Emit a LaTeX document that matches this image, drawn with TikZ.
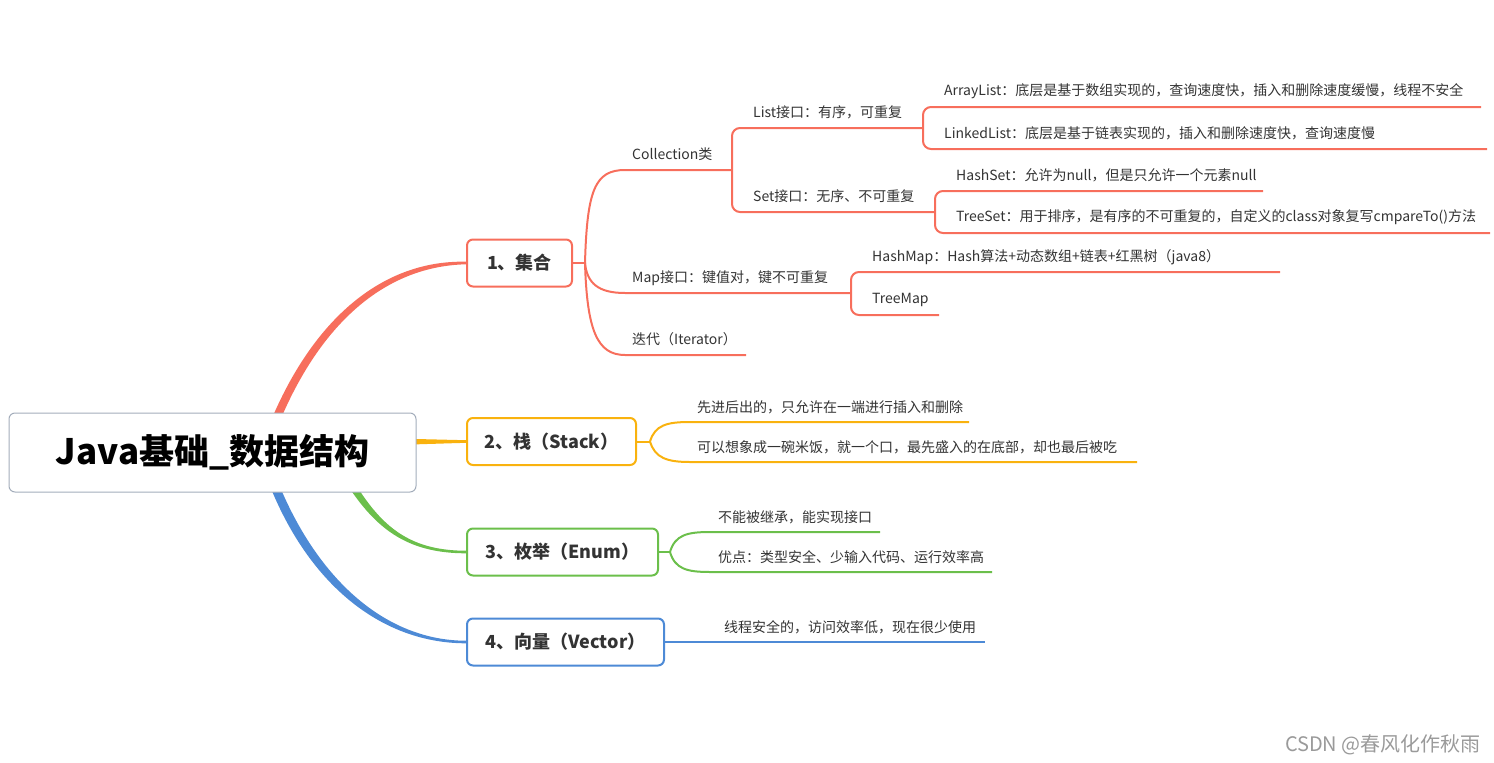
\documentclass[tikz,border=0pt]{standalone}
\usepackage{fontspec}
\setmainfont{Noto Sans CJK SC}
\usetikzlibrary{calc}
\definecolor{cred}{HTML}{F76E5C}
\definecolor{cyel}{HTML}{F9B20E}
\definecolor{cgrn}{HTML}{6BBF4B}
\definecolor{cblu}{HTML}{4D8AD6}
\definecolor{cgry}{HTML}{A3ADBB}
\definecolor{txt}{HTML}{333333}
\definecolor{wmk}{HTML}{9A9A9A}
\pgfdeclarelayer{bg}
\pgfsetlayers{bg,main}
\begin{document}
\begin{tikzpicture}[x=1pt,y=-1pt,
  leaf/.style={anchor=west,inner sep=0pt,yshift=-1.5pt,text=txt,font=\fontsize{14}{16}\selectfont},
  topic/.style={draw,rounded corners=6pt,line width=2pt,fill=white,text=txt,font=\fontsize{18}{20}\selectfont\bfseries,minimum height=47pt,inner sep=0pt},
  conn/.style={line width=2pt},
  bracket/.style={line width=2pt,rounded corners=8pt}
]
\useasboundingbox (0,0) rectangle (1494,763);

% root and topics
\node[draw=cgry,line width=1pt,rounded corners=6pt,fill=white,minimum width=407pt,minimum height=79pt,inner sep=0pt,font=\fontsize{35}{40}\selectfont\bfseries] (root) at (212.5,452.5) {Java基础\_数据结构};
\node[topic,draw=cred,minimum width=105pt] (t1) at (519.5,263) {1、集合};
\node[topic,draw=cyel,minimum width=169pt] (t2) at (551.5,441.5) {2、栈（Stack）};
\node[topic,draw=cgrn,minimum width=191pt] (t3) at (562.5,552) {3、枚举（Enum）};
\node[topic,draw=cblu,minimum width=197pt] (t4) at (565.5,642) {4、向量（Vector）};

% main branches
\begin{pgfonlayer}{bg}
\fill[cred] ($(root.center)+(45.5,2.5)$) .. controls (300,330) and (375,259.7) .. ($(t1.west)+(0,-1.3)$) -- ($(t1.west)+(0,1.3)$) .. controls (378,266.3) and (308,334) .. ($(root.center)+(54.5,2.5)$) -- cycle;
\fill[cyel] ($(root.center)+(182.5,-14)$) -- ($(t2.west)+(0,-1.3)$) -- ($(t2.west)+(0,1.3)$) -- ($(root.center)+(182.5,-7.5)$) -- cycle;
\fill[cgrn] ($(root.center)+(125,0)$) .. controls (372,518) and (400,550.7) .. ($(t3.west)+(0,-1.3)$) -- ($(t3.west)+(0,1.3)$) .. controls (398,553.3) and (365,521) .. ($(root.center)+(116,0)$) -- cycle;
\fill[cblu] ($(root.center)+(54,-2)$) .. controls (305,570) and (380,640.7) .. ($(t4.west)+(0,-1.3)$) -- ($(t4.west)+(0,1.3)$) .. controls (375,643.3) and (295,575) .. ($(root.center)+(45,-2)$) -- cycle;
\end{pgfonlayer}

% ---------- branch 1 ----------
\coordinate (s1) at (585,263);
\draw[conn,cred] (t1.east) -- (s1);

\node[leaf] (col) at (632,153) {Collection类};
\node[leaf] (map) at (632,277) {Map接口：键值对，键不可重复};
\node[leaf] (itr) at (632,338) {迭代（Iterator）};
\coordinate (colB) at (732,170);
\coordinate (mapB) at (851,293);
\coordinate (itrE) at (746,355);
\draw[conn,cred] (s1) .. controls (587,190) and (595,170) .. (625,170) -- (colB);
\draw[conn,cred] (s1) .. controls (587,283) and (598,293) .. (625,293) -- (mapB);
\draw[conn,cred] (s1) .. controls (587,330) and (597,355) .. (625,355) -- (itrE);

\node[leaf] (lst) at (753,111) {List接口：有序，可重复};
\node[leaf] (set) at (753,195) {Set接口：无序、不可重复};
\coordinate (lstB) at (923,128);
\coordinate (setB) at (935,212);
\draw[bracket,cred] (lstB) -- (732,128) -- (colB) -- (732,212) -- (setB);

\node[leaf] (arr) at (944,90) {ArrayList：底层是基于数组实现的，查询速度快，插入和删除速度缓慢，线程不安全};
\node[leaf] (lnk) at (944,132) {LinkedList：底层是基于链表实现的，插入和删除速度快，查询速度慢};
\coordinate (arrE) at (1481,107);
\coordinate (lnkE) at (1487,149);
\draw[bracket,cred] (arrE) -- (923,107) -- (lstB) -- (923,149) -- (lnkE);

\node[leaf] (hst) at (956,174) {HashSet：允许为null，但是只允许一个元素null};
\node[leaf] (tst) at (956,216) {TreeSet：用于排序，是有序的不可重复的，自定义的class对象复写cmpareTo()方法};
\coordinate (hstE) at (1263,191);
\coordinate (tstE) at (1490,233);
\draw[bracket,cred] (hstE) -- (935,191) -- (setB) -- (935,233) -- (tstE);

\node[leaf] (hmp) at (872,256) {HashMap：Hash算法+动态数组+链表+红黑树（java8）};
\node[leaf] (tmp) at (872,298) {TreeMap};
\coordinate (hmpE) at (1280,272);
\coordinate (tmpE) at (939,315);
\draw[bracket,cred] (hmpE) -- (851,272) -- (mapB) -- (851,315) -- (tmpE);

% ---------- branch 2 ----------
\coordinate (s2) at (650,441.5);
\draw[conn,cyel] (t2.east) -- (s2);
\node[leaf] (st1) at (697,406) {先进后出的，只允许在一端进行插入和删除};
\node[leaf] (st2) at (697,446) {可以想象成一碗米饭，就一个口，最先盛入的在底部，却也最后被吃};
\coordinate (st1E) at (969,422);
\coordinate (st2E) at (1137,462);
\draw[conn,cyel] (s2) .. controls (655,425) and (667,422) .. (690,422) -- (st1E);
\draw[conn,cyel] (s2) .. controls (655,458) and (667,462) .. (690,462) -- (st2E);

% ---------- branch 3 ----------
\coordinate (s3) at (670,552);
\draw[conn,cgrn] (t3.east) -- (s3);
\node[leaf] (en1) at (718,516) {不能被继承，能实现接口};
\node[leaf] (en2) at (718,556) {优点：类型安全、少输入代码、运行效率高};
\coordinate (en1E) at (880,532);
\coordinate (en2E) at (992,572);
\draw[conn,cgrn] (s3) .. controls (675,535) and (687,532) .. (710,532) -- (en1E);
\draw[conn,cgrn] (s3) .. controls (675,569) and (687,572) .. (710,572) -- (en2E);

% ---------- branch 4 ----------
\node[leaf] (vc1) at (724,626) {线程安全的，访问效率低，现在很少使用};
\coordinate (vc1E) at (985,642);
\draw[conn,cblu] (t4.east) -- (vc1E);

% watermark
\node[anchor=east,inner sep=0pt,text=wmk,font=\fontsize{20}{22}\selectfont] (wm) at (1481,745) {CSDN @春风化作秋雨};
\end{tikzpicture}
\end{document}
